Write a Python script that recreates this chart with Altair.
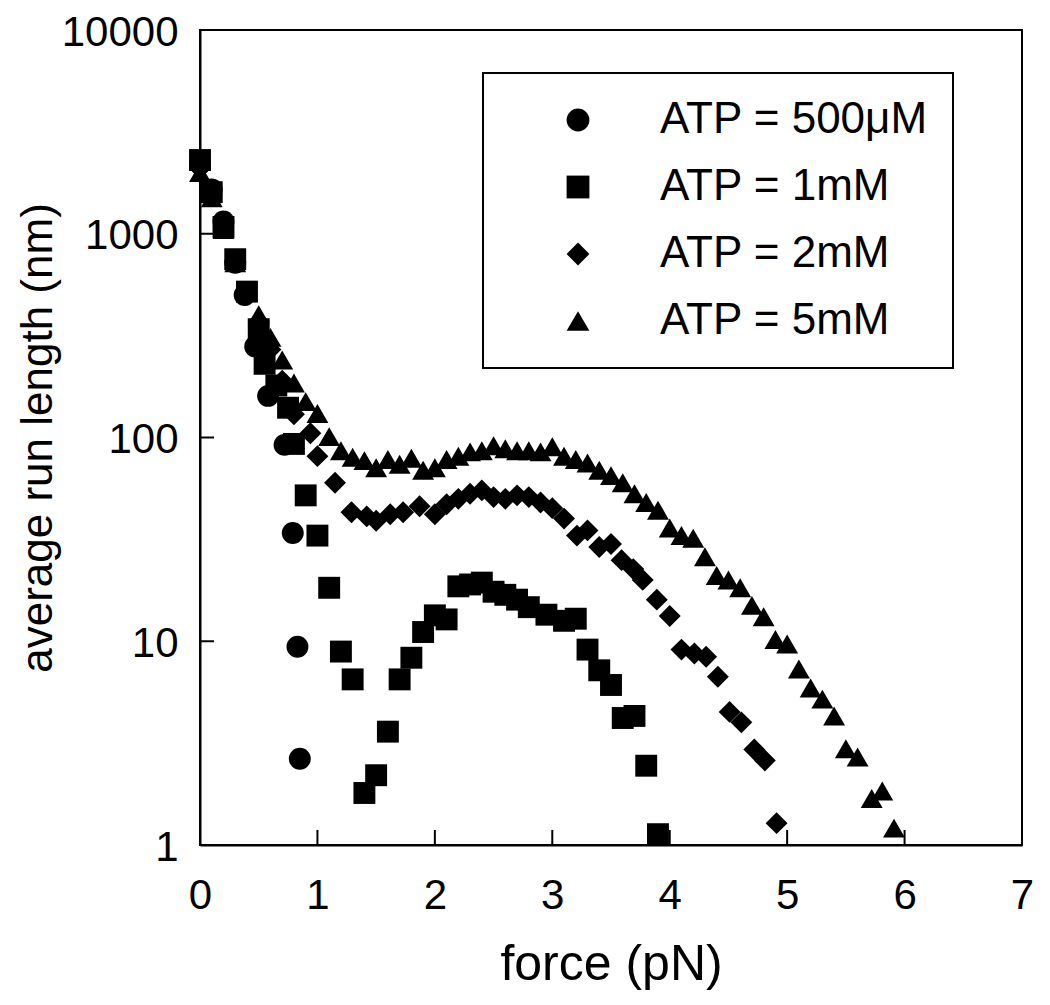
import altair as alt
import pandas as pd

series_names = ["ATP = 500\u03bcM", "ATP = 1mM", "ATP = 2mM", "ATP = 5mM"]

f500 = [0.0, 0.1, 0.2, 0.3, 0.38, 0.47, 0.58, 0.72, 0.79, 0.83, 0.85]
r500 = [2200, 1650, 1150, 720, 500, 280, 160, 92, 34, 9.4, 2.65]

f1 = [0.0, 0.1, 0.2, 0.3, 0.4, 0.5, 0.55, 0.65, 0.75, 0.8, 0.9, 1.0, 1.1, 1.2, 1.3,
      1.4, 1.5, 1.6, 1.7, 1.8, 1.9, 2.0, 2.1, 2.2, 2.3, 2.4, 2.5, 2.6, 2.7, 2.8,
      2.95, 3.1, 3.2, 3.3, 3.4, 3.5, 3.6, 3.7, 3.8, 3.9]
r1 = [2300, 1600, 1080, 750, 520, 340, 230, 180, 140, 93, 52, 33, 18.3, 8.9, 6.5,
      1.8, 2.2, 3.6, 6.5, 8.3, 11.1, 13.4, 12.8, 18.6, 19, 19.4, 17.5, 16.9, 16, 14.7,
      13.5, 12.6, 12.9, 9.1, 7.2, 6.1, 4.2, 4.3, 2.45, 1.13]

f2 = [0.0, 0.1, 0.2, 0.3, 0.4, 0.5, 0.6, 0.7, 0.8, 0.94, 1.0, 1.15, 1.29, 1.42, 1.5,
      1.62, 1.73, 1.87, 2.0, 2.1, 2.2, 2.3, 2.4, 2.5, 2.6, 2.7, 2.8, 2.9, 3.0, 3.1,
      3.21, 3.3, 3.4, 3.5, 3.59, 3.69, 3.77, 3.89, 4.0, 4.1, 4.21, 4.31, 4.41, 4.51,
      4.61, 4.72, 4.81, 4.91]
r2 = [2100, 1550, 1080, 730, 500, 370, 270, 190, 130, 105, 81, 60, 43, 41, 39,
      42, 43, 46, 42, 47, 50, 53, 55, 51, 50, 52, 51, 48, 45, 40,
      33, 35, 29, 30, 25, 22.6, 20, 16, 13.3, 9.1, 8.7, 8.4, 6.7, 4.5,
      4.0, 2.94, 2.6, 1.28]

f5 = [0.0, 0.1, 0.2, 0.3, 0.4, 0.5, 0.6, 0.7, 0.8, 0.9, 1.0, 1.1, 1.2, 1.3, 1.4,
      1.5, 1.6, 1.7, 1.8, 1.9, 2.0, 2.1, 2.2, 2.3, 2.4, 2.5, 2.6, 2.7, 2.8, 2.9,
      3.0, 3.1, 3.2, 3.3, 3.4, 3.5, 3.6, 3.7, 3.8, 3.9, 4.0, 4.1, 4.2, 4.3, 4.4,
      4.5, 4.6, 4.7, 4.8, 4.9, 5.0, 5.1, 5.2, 5.3, 5.4, 5.5, 5.6, 5.72, 5.81, 5.91]
r5 = [2000, 1500, 1050, 720, 520, 400, 310, 240, 185, 150, 131, 101, 86, 80, 77,
      71, 78, 74, 79, 69, 71, 78, 81, 85, 86, 91, 88, 86, 86, 85,
      90, 81, 78, 75, 69, 65, 60, 53, 48, 44, 36, 33, 32, 26, 21,
      20, 18.3, 15, 13.2, 10.2, 9.7, 7.3, 5.9, 5.2, 4.3, 2.97, 2.7, 1.69, 1.84, 1.21]

x_ticks = [0, 1, 2, 3, 4, 5, 6, 7]
y_ticks = [1, 10, 100, 1000, 10000]
x_inner_ticks = [1, 2, 3, 4, 5, 6]
y_inner_ticks = [10, 100, 1000]

rows = []
for name, fs, rs in zip(series_names, [f500, f1, f2, f5], [r500, r1, r2, r5]):
    for f, r in zip(fs, rs):
        rows.append({"force": f, "run": r, "series": name})
df = pd.DataFrame(rows)

W, H = 822, 815
FONT = "Liberation Sans"

x_scale = alt.Scale(domain=[0, 7], nice=False, zero=False)
y_scale = alt.Scale(type="log", domain=[1, 10000], nice=False)

x_axis = alt.Axis(values=x_ticks, title="force (pN)", ticks=False,
                  labelPadding=30, titlePadding=23, labelFlush=False,
                  grid=False, format="d", titleFontSize=50)
y_axis = alt.Axis(values=y_ticks, title="average run length (nm)", ticks=False,
                  labelPadding=22, titlePadding=1, labelFlush=False, labelOffset=2,
                  grid=False, format="d", titleFontSize=44)

points = alt.Chart(df).mark_point(
    filled=True, opacity=1, color="black", strokeWidth=0, size=480
).encode(
    x=alt.X("force:Q", scale=x_scale, axis=x_axis),
    y=alt.Y("run:Q", scale=y_scale, axis=y_axis),
    shape=alt.Shape("series:N",
                    scale=alt.Scale(domain=series_names,
                                    range=["circle", "square", "diamond", "triangle-up"]),
                    legend=alt.Legend(title=None, orient="none", legendX=283, legendY=43,
                                      strokeColor="black", padding=25, rowPadding=23,
                                      symbolSize=520, symbolOffset=48, labelOffset=60,
                                      symbolFillColor="black", symbolStrokeWidth=0,
                                      labelFontSize=44, labelFont=FONT, labelLimit=500,
                                      labelColor="black")),
)

xt = pd.DataFrame({"t": x_inner_ticks})
x_tick_marks = alt.Chart(xt).mark_rule(color="black", strokeWidth=2).encode(
    x=alt.X("t:Q", scale=x_scale, axis=x_axis),
    y=alt.value(H), y2=alt.value(H - 15),
)
yt = pd.DataFrame({"t": y_inner_ticks})
y_tick_marks = alt.Chart(yt).mark_rule(color="black", strokeWidth=2).encode(
    y=alt.Y("t:Q", scale=y_scale, axis=y_axis),
    x=alt.value(0), x2=alt.value(14),
)

chart = alt.layer(points, x_tick_marks, y_tick_marks).properties(
    width=W, height=H,
    background="white",
    autosize=alt.AutoSizeParams(type="none"),
    padding={"left": 192, "top": 22, "right": 20, "bottom": 150},
).configure_view(
    stroke="black", strokeWidth=2
).configure_legend(
    strokeWidth=2
).configure_axis(
    domainColor="black", domainWidth=2,
    labelFont=FONT, labelFontSize=42, labelColor="black",
    titleFont=FONT, titleColor="black", titleFontWeight="normal",
)

chart.save("out.html", embed_options={"renderer": "svg", "actions": False})
